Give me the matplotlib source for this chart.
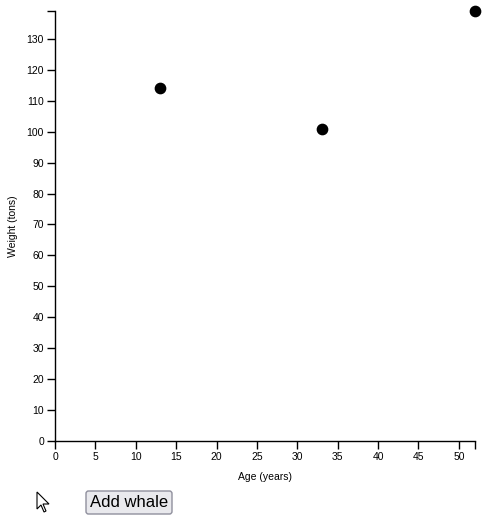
import matplotlib
matplotlib.use("Agg")
import matplotlib.pyplot as plt
from matplotlib.patches import FancyBboxPatch, Polygon

plt.rcParams['font.family'] = ['Liberation Sans', 'DejaVu Sans']

ages = [13, 33, 52]
weights = [114, 101, 139]
x_ticks = list(range(0, 55, 5))
y_ticks = list(range(0, 140, 10))
x_max, y_max = 52, 139

W, H = 494, 521
fig = plt.figure(figsize=(W / 100, H / 100), dpi=100)
ax = fig.add_axes([55 / W, 80 / H, (475 - 55) / W, (441 - 11) / H])
ax.scatter(ages, weights, s=55, color='black', clip_on=False, zorder=3)
ax.set_xlim(0, x_max)
ax.set_ylim(0, y_max)
ax.set_xticks(x_ticks)
ax.set_yticks(y_ticks)
ax.set_xticks([x_max], minor=True)
ax.set_yticks([y_max], minor=True)
for s in ['top', 'right']:
    ax.spines[s].set_visible(False)
for s in ['left', 'bottom']:
    ax.spines[s].set_linewidth(1.0)
ax.tick_params(which='both', direction='out', length=6, width=1, labelsize=7.5, pad=2)
ax.set_xlabel('Age (years)', fontsize=7.5, va='center')
ax.set_ylabel('Weight (tons)', fontsize=7.5, va='center')
ax.xaxis.set_label_coords(0.5, (441 - 477) / 430)
ax.yaxis.set_label_coords((13 - 55) / 420, 0.5)

# button
btn = FancyBboxPatch((86 / W, (H - 514) / H), 86 / W, 23 / H,
                     boxstyle='round,pad=0,rounding_size=0.005',
                     transform=fig.transFigure, facecolor='#e9e9ed',
                     edgecolor='#8f8f9d', linewidth=1)
fig.add_artist(btn)
fig.text(129 / W, (H - 502.5) / H, 'Add whale', ha='center', va='center', fontsize=12)

# cursor
pts = [(37, 492), (37, 509), (41, 505), (44, 512), (46, 511), (43, 504), (49, 504)]
cur = Polygon([(x / W, (H - y) / H) for x, y in pts], closed=True,
              transform=fig.transFigure, facecolor='white', edgecolor='black', linewidth=0.8)
fig.add_artist(cur)

fig.savefig('out.png', dpi=100)
